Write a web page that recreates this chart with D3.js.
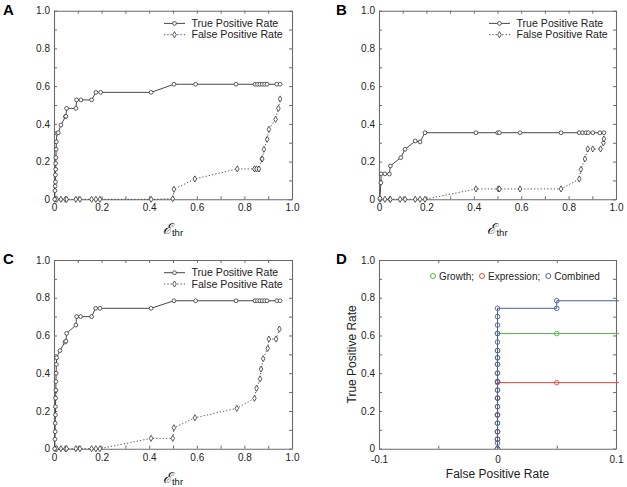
<!DOCTYPE html>
<html><head><meta charset="utf-8">
<script src="https://cdn.jsdelivr.net/npm/d3@7"></script>
<style>body{margin:0;background:#fff}svg{display:block;font-family:"Liberation Sans",Arial,sans-serif}</style>
</head><body><svg id="c" width="627" height="487"></svg>
<script>
// ---------- data ----------
const aThrTPR = [0.003,0.004,0.005,0.006,0.006,0.007,0.007,0.008,0.009,0.010,0.012,0.018,0.029,0.048,0.050,0.053,0.092,0.095,0.113,0.158,0.176,0.196,0.408,0.504,0.595,0.765,0.845,0.855,0.865,0.875,0.885,0.895,0.936,0.950];
const aTPR    = [0.000,0.046,0.070,0.092,0.129,0.159,0.190,0.221,0.265,0.305,0.350,0.353,0.394,0.438,0.440,0.482,0.482,0.527,0.527,0.527,0.567,0.567,0.567,0.610,0.610,0.610,0.610,0.610,0.610,0.610,0.610,0.610,0.610,0.610];
const aThrFPR = [0.004,0.011,0.029,0.048,0.053,0.092,0.109,0.158,0.176,0.193,0.408,0.499,0.504,0.592,0.770,0.842,0.851,0.861,0.873,0.875,0.882,0.896,0.903,0.931,0.943,0.950];
const aFPR    = [0,0,0,0,0,0,0,0,0,0,0,0.003,0.053,0.108,0.161,0.161,0.161,0.161,0.214,0.214,0.265,0.318,0.371,0.424,0.482,0.532];

const bThrTPR = [0.004,0.008,0.009,0.025,0.044,0.048,0.092,0.110,0.153,0.173,0.194,0.409,0.501,0.508,0.595,0.768,0.845,0.859,0.873,0.883,0.902,0.932,0.949];
const bTPR    = [0.005,0.088,0.135,0.135,0.134,0.177,0.221,0.265,0.309,0.304,0.353,0.353,0.353,0.353,0.353,0.353,0.353,0.353,0.353,0.353,0.353,0.353,0.353];
const bThrFPR = [0.004,0.025,0.046,0.048,0.089,0.110,0.153,0.173,0.194,0.409,0.503,0.508,0.595,0.768,0.845,0.852,0.869,0.881,0.902,0.935,0.947,0.949];
const bFPR    = [0,0,0,0,0,0,0,0,0,0.055,0.055,0.055,0.055,0.055,0.108,0.159,0.214,0.267,0.267,0.267,0.300,0.320];

const cThrTPR = [0.003,0.004,0.005,0.005,0.006,0.006,0.007,0.008,0.008,0.009,0.010,0.011,0.025,0.046,0.050,0.053,0.092,0.095,0.112,0.158,0.175,0.193,0.408,0.504,0.595,0.765,0.845,0.855,0.865,0.875,0.885,0.895,0.936,0.950];
const cTPR    = [0.000,0.050,0.090,0.135,0.179,0.223,0.268,0.310,0.356,0.400,0.447,0.482,0.520,0.565,0.570,0.611,0.655,0.700,0.700,0.700,0.744,0.744,0.744,0.784,0.784,0.784,0.784,0.784,0.784,0.784,0.784,0.784,0.784,0.784];
const cThrFPR = [0.004,0.011,0.029,0.048,0.053,0.092,0.109,0.158,0.176,0.193,0.408,0.499,0.504,0.592,0.768,0.842,0.851,0.866,0.870,0.879,0.898,0.903,0.933,0.947];
const cFPR    = [0,0,0,0,0,0,0,0,0,0,0.055,0.055,0.111,0.164,0.214,0.267,0.320,0.370,0.422,0.477,0.532,0.581,0.581,0.634];

const dGrowthFPR = [0,0,0,0,0,0,0,0,0,0,0,0,0,0,0.05,1];
const dGrowthTPR = [0,0.05,0.09,0.135,0.179,0.223,0.268,0.31,0.356,0.40,0.447,0.482,0.52,0.61,0.61,0.61];
const dExprFPR   = [0,0,0,0,0,0,0.05,1];
const dExprTPR   = [0,0.05,0.09,0.179,0.268,0.35,0.35,0.35];
const dCombFPR   = [0,0,0,0,0,0,0,0,0,0,0,0,0,0,0,0,0,0,0,0.05,0.05,1];
const dCombTPR   = [0,0.03,0.05,0.09,0.135,0.179,0.223,0.268,0.31,0.356,0.40,0.447,0.482,0.52,0.565,0.611,0.655,0.70,0.744,0.744,0.784,0.784];

const seriesNames = ["True Positive Rate","False Positive Rate"];
const dLegend = ["Growth;","Expression;","Combined"];
const yTicks = [0,0.1,0.2,0.3,0.4,0.5,0.6,0.7,0.8,0.9,1.0];
const xTicks = [0,0.1,0.2,0.3,0.4,0.5,0.6,0.7,0.8,0.9,1.0];
const dXTicks = [-0.1,-0.05,0,0.05,0.1];

// ---------- drawing ----------
const svg = d3.select("#c");
const AX = "#6a6a6a", INK = "#222";
const fmt = d => Math.abs(d) < 1e-9 ? "0" : d.toFixed(1);
const majorOnly = d => (Math.round(d*10) % 2 === 0) ? fmt(d) : "";

function frame(g, x, y, w, h, xt, yt, xfmt, xpad) {
  const mk = (a) => a.tickSizeOuter(0).tickSizeInner(-3);
  g.append("g").attr("transform",`translate(0,${h})`)
    .call(mk(d3.axisBottom(x)).tickValues(xt).tickFormat(xfmt).tickPadding(xpad));
  g.append("g").call(mk(d3.axisTop(x)).tickValues(xt).tickFormat(""));
  g.append("g").call(mk(d3.axisLeft(y)).tickValues(yt).tickFormat(majorOnly).tickPadding(4));
  g.append("g").attr("transform",`translate(${w},0)`)
    .call(mk(d3.axisRight(y)).tickValues(yt).tickFormat(""));
  g.selectAll(".domain").attr("stroke",AX).attr("stroke-width",1.1);
  g.selectAll(".tick line").attr("stroke",AX);
  g.selectAll(".tick text").attr("fill",INK).style("font-size","10px");
}

function panelLabel(txt, x, y) {
  svg.append("text").attr("x",x).attr("y",y).text(txt)
    .style("font-weight","bold").style("font-size","15px").attr("fill","#000");
}

function thrPanel(p) {
  const g = svg.append("g").attr("transform",`translate(${p.l},${p.t})`);
  const x = d3.scaleLinear().domain([0,1]).range([0,p.w]);
  const y = d3.scaleLinear().domain([0,1]).range([p.h,0]);
  frame(g, x, y, p.w, p.h, xTicks, yTicks, majorOnly, 5);
  const line = d3.line().x(d=>x(d[0])).y(d=>y(d[1]));
  const tp = p.tx.map((v,i)=>[v,p.ty[i]]);
  const fp = p.fx.map((v,i)=>[v,p.fy[i]]);
  g.append("path").attr("d",line(fp)).attr("fill","none").attr("stroke","#444")
    .attr("stroke-width",0.9).attr("stroke-dasharray","1.3,2");
  g.append("path").attr("d",line(tp)).attr("fill","none").attr("stroke","#333").attr("stroke-width",0.9);
  const dia = d3.symbol().type(d3.symbolDiamond).size(11);
  g.selectAll(".fpm").data(fp).join("path").attr("d",dia)
    .attr("transform",d=>`translate(${x(d[0])},${y(d[1])})`)
    .attr("fill","#fff").attr("stroke","#333").attr("stroke-width",0.8);
  g.selectAll(".tpm").data(tp).join("circle").attr("cx",d=>x(d[0])).attr("cy",d=>y(d[1])).attr("r",1.9)
    .attr("fill","#fff").attr("stroke","#333").attr("stroke-width",0.8);
  // legend
  const lx0 = 110, lx1 = 131, tx = 137.5;
  [[12.7,false],[24,true]].forEach(([ly,dash],i)=>{
    g.append("line").attr("x1",lx0).attr("x2",lx1).attr("y1",ly).attr("y2",ly)
      .attr("stroke","#333").attr("stroke-width",0.9).attr("stroke-dasharray",dash?"1.3,2":null);
    if (dash) g.append("path").attr("d",dia).attr("transform",`translate(${(lx0+lx1)/2},${ly})`)
      .attr("fill","#fff").attr("stroke","#333").attr("stroke-width",0.8);
    else g.append("circle").attr("cx",(lx0+lx1)/2).attr("cy",ly).attr("r",1.9)
      .attr("fill","#fff").attr("stroke","#333").attr("stroke-width",0.8);
    g.append("text").attr("x",tx).attr("y",ly).attr("dy","0.35em").text(seriesNames[i])
      .style("font-size","10.6px").attr("fill",INK);
  });
  // x title
  const t = g.append("text").attr("x",p.w/2).attr("y",p.h+34.5).attr("text-anchor","middle").attr("fill","#111");
  t.append("tspan").text("ℰ").style("font-size","15px").style("font-style","italic")
    .style("font-family","'DejaVu Serif','Liberation Serif',serif");
  t.append("tspan").text("thr").attr("dy","2").style("font-size","9.5px");
  panelLabel(p.label, p.lx, p.ly);
}

thrPanel({l:54,t:10.7,w:238,h:188.6,tx:aThrTPR,ty:aTPR,fx:aThrFPR,fy:aFPR,label:"A",lx:3,ly:15});
thrPanel({l:379,t:10.7,w:237,h:188.6,tx:bThrTPR,ty:bTPR,fx:bThrFPR,fy:bFPR,label:"B",lx:336,ly:15});
thrPanel({l:54,t:260,w:238,h:188.7,tx:cThrTPR,ty:cTPR,fx:cThrFPR,fy:cFPR,label:"C",lx:3,ly:264});

// ---------- panel D ----------
(function(){
  const p = {l:379,t:260,w:237,h:188.7};
  const g = svg.append("g").attr("transform",`translate(${p.l},${p.t})`);
  const x = d3.scaleLinear().domain([-0.1,0.1]).range([0,p.w]);
  const y = d3.scaleLinear().domain([0,1]).range([p.h,0]);
  frame(g, x, y, p.w, p.h, dXTicks, yTicks, d => Math.abs(Math.round(d*100)%10)===5 ? "" : fmt(d), 7);
  svg.append("clipPath").attr("id","clipD").append("rect").attr("width",p.w+3).attr("height",p.h+3).attr("y",-3);
  const pc = g.append("g").attr("clip-path","url(#clipD)");
  const line = d3.line().x(d=>x(d[0])).y(d=>y(d[1]));
  const sets = [
    {fx:dGrowthFPR, ty:dGrowthTPR, c:"#55b04a"},
    {fx:dExprFPR,   ty:dExprTPR,   c:"#e0463e"},
    {fx:dCombFPR,   ty:dCombTPR,   c:"#4c5d9c"}
  ];
  sets.forEach(s=>{
    const pts = s.fx.map((v,i)=>[v,s.ty[i]]);
    pc.append("path").attr("d",line(pts)).attr("fill","none").attr("stroke",s.c).attr("stroke-width",1);
    pc.selectAll(null).data(pts).join("circle").attr("cx",d=>x(d[0])).attr("cy",d=>y(d[1])).attr("r",2.3)
      .attr("fill","none").attr("stroke",s.c).attr("stroke-width",0.9);
  });
  // legend
  let cx = 54;
  sets.forEach((s,i)=>{
    g.append("circle").attr("cx",cx).attr("cy",16).attr("r",2.5).attr("fill","none").attr("stroke",s.c).attr("stroke-width",1);
    const t = g.append("text").attr("x",cx+6).attr("y",16).attr("dy","0.35em").text(dLegend[i])
      .style("font-size","10px").attr("fill",INK);
    cx += 6 + t.node().getComputedTextLength() + 8;
  });
  g.append("text").attr("x",p.w/2).attr("y",p.h+25).attr("dy","0.35em").attr("text-anchor","middle")
    .text("False Positive Rate").style("font-size","12px").attr("fill",INK);
  g.append("text").attr("transform",`translate(-27,${p.h/2}) rotate(-90)`).attr("text-anchor","middle")
    .attr("dy","0.35em").text("True Positive Rate").style("font-size","12px").attr("fill",INK);
  panelLabel("D", 336, 264);
})();
</script></body></html>
